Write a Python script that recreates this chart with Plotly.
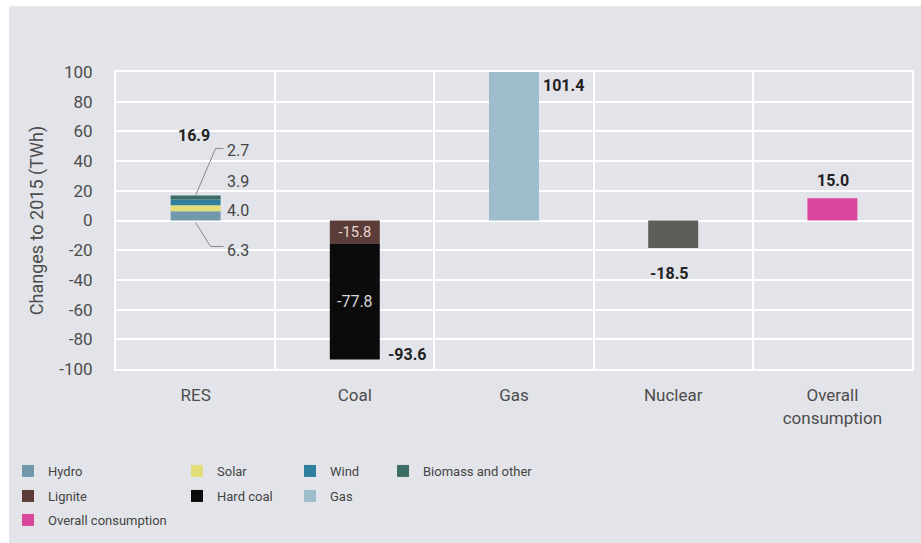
import plotly.graph_objects as go

# Categories on the x axis
categories = ["RES", "Coal", "Gas", "Nuclear", "Overall<br>consumption"]

# One bar segment per series: name, category and change vs. 2015 in TWh
series_names = ["Hydro", "Solar", "Wind", "Biomass and other",
                "Lignite", "Hard coal", "Gas", "Nuclear", "Overall consumption"]
series_category = ["RES", "RES", "RES", "RES",
                   "Coal", "Coal", "Gas", "Nuclear", "Overall<br>consumption"]
series_values = [6.3, 4.0, 3.9, 2.7, -15.8, -77.8, 101.4, -18.5, 15.0]

# Y axis ticks
y_tick_values = [-100, -80, -60, -40, -20, 0, 20, 40, 60, 80, 100]

# Styling
series_colors = ["#7199ab", "#e3df78", "#2f7f9c", "#3b6d64",
                 "#5a3d38", "#0b0b0b", "#9dbdcc", "#5d5e59", "#d9479c"]
inside_text_color = {"Lignite": "#ecd6d0", "Hard coal": "#d8d8d8"}
# legend entry placement: text left edge and row centre, in pixels
legend_slots = {
    "Hydro": (48, 471), "Solar": (217, 471), "Wind": (330, 471),
    "Biomass and other": (423, 471),
    "Lignite": (48, 496), "Hard coal": (217, 496), "Gas": (330, 496),
    "Overall consumption": (48, 520),
}

FONT = "Roboto, Arial, sans-serif"
BG = "#e3e4e9"
TICK_COLOR = "#4d4d4d"
LABEL_COLOR = "#222222"

W, H = 921, 543
ML, MR, MT, MB = 115, 9, 72, 173
PW, PH = W - ML - MR, H - MT - MB


def xp(px):
    return (px - ML) / PW


def yp(py):
    return (H - MB - py) / PH


fig = go.Figure()
legends = {}
legend_ids = {}
for i, name in enumerate(legend_slots):
    key = "legend" if i == 0 else f"legend{i + 1}"
    legend_ids[name] = key
    tx, ty = legend_slots[name]
    legends[key] = dict(
        orientation="v", x=xp(tx - 40), y=yp(ty), xanchor="left", yanchor="middle",
        bgcolor="rgba(0,0,0,0)", borderwidth=0,
        font=dict(family=FONT, size=13, color="#444444"),
        itemclick=False, itemdoubleclick=False,
    )

for name, cat, val, col in zip(series_names, series_category, series_values, series_colors):
    if name in inside_text_color:
        kw = dict(text=[f"{val:.1f}"], textposition="inside", insidetextanchor="middle",
                  textangle=0,
                  textfont=dict(family=FONT, size=16, color=inside_text_color[name]))
    else:
        kw = dict(textposition="none")
    fig.add_trace(go.Bar(
        x=[cat], y=[val], name=name,
        marker=dict(color=col, line=dict(width=0)),
        showlegend=name in legend_ids,
        legend=legend_ids.get(name, "legend"),
        hoverinfo="skip",
        **kw,
    ))

# Totals per category
totals = {}
for cat, val in zip(series_category, series_values):
    totals[cat] = totals.get(cat, 0.0) + val

# Placement of total labels: (xshift px, xanchor, y in data units)
total_label_pos = {
    "RES": (-2, "center", 57),
    "Coal": (31, "left", -90),
    "Gas": (27, "left", 90.8),
    "Nuclear": (-4, "center", -35.6),
    "Overall<br>consumption": (1, "center", 27),
}

annotations = []
for cat in categories:
    dx, anchor, ypos = total_label_pos[cat]
    annotations.append(dict(
        x=cat, y=ypos, xref="x", yref="y", text=f"<b>{totals[cat]:.1f}</b>",
        showarrow=False, xanchor=anchor, yanchor="middle", xshift=dx,
        font=dict(family=FONT, size=16, color=LABEL_COLOR),
    ))

# RES segment labels placed to the right of the stack
res_label_y = {"Hydro": -20, "Solar": 6.8, "Wind": 26.2, "Biomass and other": 47}
for name, cat, val in zip(series_names, series_category, series_values):
    if name in res_label_y:
        annotations.append(dict(
            x=cat, y=res_label_y[name], xref="x", yref="y", text=f"{val:.1f}",
            showarrow=False, xanchor="left", yanchor="middle", xshift=29,
            font=dict(family=FONT, size=16, color="#444444"),
        ))

res_top = totals["RES"]
top_y = res_label_y["Biomass and other"] + 1.5
low_y = res_label_y["Hydro"] + 2.5
shapes = [
    # grey panel behind the chart
    dict(type="rect", xref="paper", yref="paper", layer="below",
         x0=xp(8), x1=xp(W + 2), y0=yp(H + 2), y1=yp(6),
         fillcolor=BG, line=dict(width=0)),
    # leader lines for the top and bottom RES segments
    dict(type="path", xref="x", yref="y", xsizemode="pixel", xanchor="RES",
         path=f"M0,{res_top} L20,{top_y} L28,{top_y}",
         line=dict(color="#8a8a8a", width=1)),
    dict(type="path", xref="x", yref="y", xsizemode="pixel", xanchor="RES",
         path=f"M0,-1.5 L15,{low_y} L28,{low_y}",
         line=dict(color="#8a8a8a", width=1)),
]

fig.update_layout(
    width=W, height=H,
    margin=dict(l=ML, r=MR, t=MT, b=MB, pad=0),
    paper_bgcolor="white",
    plot_bgcolor=BG,
    barmode="relative",
    bargap=0.686,
    font=dict(family=FONT, color=TICK_COLOR),
    annotations=annotations,
    shapes=shapes,
    **legends,
)

fig.update_xaxes(
    type="category", categoryorder="array", categoryarray=categories,
    showgrid=True, gridcolor="white", gridwidth=2, tickson="boundaries",
    showline=True, linecolor="white", linewidth=2, mirror=True,
    ticks="", ticklabelstandoff=10,
    tickfont=dict(family=FONT, size=17, color=TICK_COLOR),
    fixedrange=True, automargin=False,
)
fig.update_yaxes(
    range=[-100, 100], tickvals=y_tick_values, ticktext=[str(v) for v in y_tick_values],
    showgrid=True, gridcolor="white", gridwidth=1.5,
    zeroline=True, zerolinecolor="white", zerolinewidth=2,
    showline=True, linecolor="white", linewidth=2, mirror=True,
    ticks="", ticklabelstandoff=18,
    tickfont=dict(family=FONT, size=17, color=TICK_COLOR),
    title=dict(text="Changes to 2015 (TWh)", standoff=11,
               font=dict(family=FONT, size=18, color=TICK_COLOR)),
    fixedrange=True, automargin=False,
)

fig.write_html("out.html", config={"displayModeBar": False})
